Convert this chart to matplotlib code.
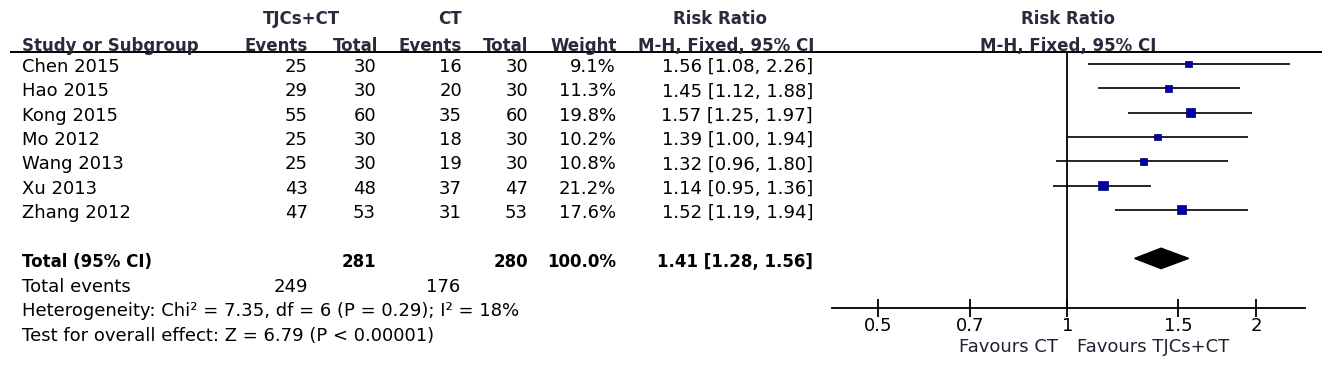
import matplotlib.pyplot as plt
import numpy as np

plt.rcParams["font.family"] = "DejaVu Sans"

studies = ["Chen 2015", "Hao 2015", "Kong 2015", "Mo 2012", "Wang 2013", "Xu 2013", "Zhang 2012"]
tjc_events = [25, 29, 55, 25, 25, 43, 47]
tjc_total = [30, 30, 60, 30, 30, 48, 53]
ct_events = [16, 20, 35, 18, 19, 37, 31]
ct_total = [30, 30, 60, 30, 30, 47, 53]
weights = [9.1, 11.3, 19.8, 10.2, 10.8, 21.2, 17.6]
rr = [1.56, 1.45, 1.57, 1.39, 1.32, 1.14, 1.52]
ci_low = [1.08, 1.12, 1.25, 1.00, 0.96, 0.95, 1.19]
ci_high = [2.26, 1.88, 1.97, 1.94, 1.80, 1.36, 1.94]

total_tjc, total_ct = 281, 280
events_tjc, events_ct = 249, 176
pooled_rr, pooled_lo, pooled_hi = 1.41, 1.28, 1.56
het_text = "Heterogeneity: Chi\u00b2 = 7.35, df = 6 (P = 0.29); I\u00b2 = 18%"
effect_text = "Test for overall effect: Z = 6.79 (P < 0.00001)"
x_ticks = [0.5, 0.7, 1, 1.5, 2]
x_ticklabels = ["0.5", "0.7", "1", "1.5", "2"]

W, H = 1325, 370
FS = 13
FS_BOLD = 12
HEAD = "#2a2a3c"

fig = plt.figure(figsize=(W / 100, H / 100), dpi=100)

# rows: 24.3 px apart, first marker at y=64 px; top rule at 52 px, x axis at 308 px
row_px, row0 = 24.3, 64
y_top = (52 - row0) / row_px
y_bot = (308 - row0) / row_px
ax_rect_y = 1 - 308 / H
ax_rect_h = (308 - 52) / H

tab = fig.add_axes([0, ax_rect_y, 1, ax_rect_h])
tab.set_xlim(0, W)
tab.set_ylim(y_bot, y_top)
tab.axis("off")

ax = fig.add_axes([832 / W, ax_rect_y, (1305 - 832) / W, ax_rect_h])
ax.patch.set_visible(False)
ax.set_xscale("log")
ax.set_xlim(0.422, 2.39)
ax.set_ylim(y_bot, y_top)

rows = np.arange(len(studies))
total_row = len(studies) + 1
dy = 0.13  # text sits a touch below the marker centre


def put(x, y, s, ha="right", bold=False, color="black"):
    tab.text(x, y + dy, s, ha=ha, va="center",
             fontsize=FS_BOLD if bold else FS,
             fontweight="bold" if bold else "normal", color=color, clip_on=False)


# header
put(301, -1.97, "TJCs+CT", ha="center", bold=True, color=HEAD)
put(450, -1.97, "CT", ha="center", bold=True, color=HEAD)
put(720, -1.97, "Risk Ratio", ha="center", bold=True, color=HEAD)
put(22, -0.86, "Study or Subgroup", ha="left", bold=True, color=HEAD)
put(308, -0.86, "Events", bold=True, color=HEAD)
put(378, -0.86, "Total", bold=True, color=HEAD)
put(462, -0.86, "Events", bold=True, color=HEAD)
put(528, -0.86, "Total", bold=True, color=HEAD)
put(617, -0.86, "Weight", bold=True, color=HEAD)
put(814, -0.86, "M-H, Fixed, 95% CI", bold=True, color=HEAD)
put(1068, -1.97, "Risk Ratio", ha="center", bold=True, color=HEAD)
put(1068, -0.86, "M-H, Fixed, 95% CI", ha="center", bold=True, color=HEAD)
tab.hlines(y_top, 10, 1322, color="black", lw=1.4, clip_on=False)

for i, name in enumerate(studies):
    put(22, i, name, ha="left")
    put(308, i, str(tjc_events[i]))
    put(376, i, str(tjc_total[i]))
    put(462, i, str(ct_events[i]))
    put(528, i, str(ct_total[i]))
    put(616, i, f"{weights[i]:.1f}%")
    put(813, i, f"{rr[i]:.2f} [{ci_low[i]:.2f}, {ci_high[i]:.2f}]")

put(22, total_row, "Total (95% CI)", ha="left", bold=True)
put(376, total_row, str(total_tjc), bold=True)
put(528, total_row, str(total_ct), bold=True)
put(616, total_row, f"{sum(weights):.1f}%", bold=True)
put(813, total_row, f"{pooled_rr:.2f} [{pooled_lo:.2f}, {pooled_hi:.2f}]", bold=True)
put(22, total_row + 1.05, "Total events", ha="left")
put(308, total_row + 1.05, str(events_tjc))
put(460, total_row + 1.05, str(events_ct))
put(22, total_row + 2.05, het_text, ha="left")
put(22, total_row + 3.05, effect_text, ha="left")

# forest
ax.axvline(1, color="black", lw=1.3)
ax.hlines(rows, ci_low, ci_high, color="black", lw=1.2)
side_pt = 2.1 * np.sqrt(weights) * 0.72
ax.scatter(rr, rows, marker="s", s=side_pt ** 2, color="#0000a8",
           edgecolors="#000060", linewidths=0.5, zorder=3)
h = 0.42
ax.fill([pooled_lo, pooled_rr, pooled_hi, pooled_rr],
        [total_row, total_row - h, total_row, total_row + h], color="black")

for s in ["left", "right", "top"]:
    ax.spines[s].set_visible(False)
ax.spines["bottom"].set_linewidth(1.3)
ax.set_yticks([])
ax.set_xticks(x_ticks)
ax.set_xticklabels(x_ticklabels, fontsize=FS)
ax.minorticks_off()
ax.tick_params(axis="x", direction="inout", length=13, width=1.3, pad=0)
fig.text(1058 / W, 1 - 347 / H, "Favours CT", ha="right", va="center", fontsize=FS, color="#202030")
fig.text(1077 / W, 1 - 347 / H, "Favours TJCs+CT", ha="left", va="center", fontsize=FS, color="#202030")

fig.savefig("out.png", dpi=100)
